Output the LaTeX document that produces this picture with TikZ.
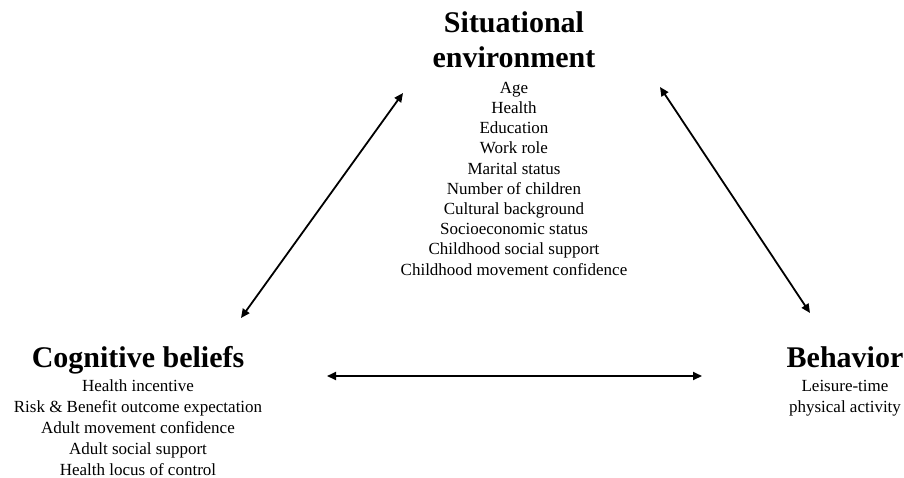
\documentclass[tikz,border=0pt]{standalone}
\usepackage{fontspec}
\setmainfont{Liberation Serif}
\usetikzlibrary{arrows.meta}
\begin{document}
\begin{tikzpicture}
[x=1pt,y=-1pt,
head/.style={font=\fontsize{30}{35}\selectfont\bfseries,align=center,inner sep=0pt,anchor=base},
items/.style={font=\fontsize{17}{21}\selectfont,align=center,inner sep=0pt,anchor=base},
link/.style={{Triangle[length=9pt,width=8pt]}-{Triangle[length=9pt,width=8pt]},line width=1.8pt}]
\useasboundingbox (0,0) rectangle (904,477);
\node[head] (sit) at (514,67) {Situational\\environment};
\node[items,font=\fontsize{17}{20.2}\selectfont] (sitlist) at (514,275) {Age\\Health\\Education\\Work role\\Marital status\\
Number of children\\Cultural background\\Socioeconomic status\\Childhood social support\\
Childhood movement confidence};
\node[head] (cog) at (138,367) {Cognitive beliefs};
\node[items] (coglist) at (138,475) {Health incentive\\Risk \& Benefit outcome expectation\\
Adult movement confidence\\Adult social support\\Health locus of control};
\node[head] (beh) at (845,367) {Behavior};
\node[items] (behlist) at (845,412) {Leisure-time\\physical activity};
\coordinate (sit-w) at (403,93);
\coordinate (sit-e) at (660,87);
\coordinate (cog-n) at (241,318);
\coordinate (cog-e) at (327,376);
\coordinate (beh-n) at (810,313);
\coordinate (beh-w) at (702,376);
\path
(cog-n) edge[link] (sit-w)
(sit-e) edge[link] (beh-n)
(cog-e) edge[link] (beh-w);
\end{tikzpicture}
\end{document}
